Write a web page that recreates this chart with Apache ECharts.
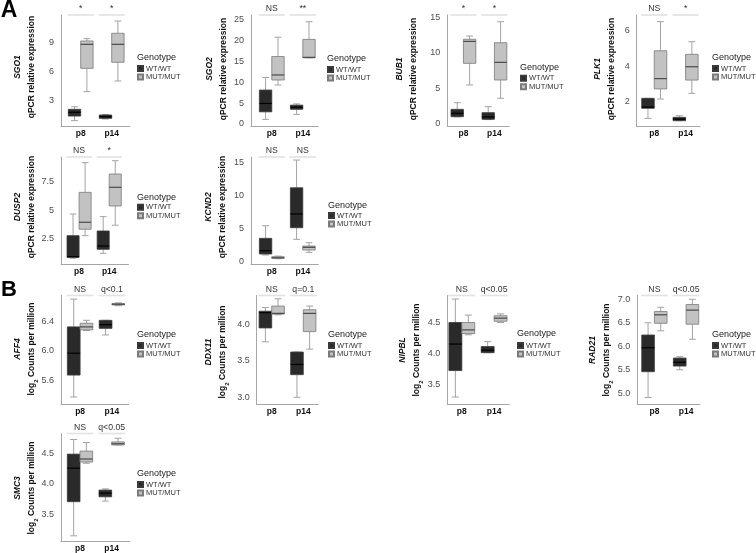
<!DOCTYPE html>
<html><head><meta charset="utf-8">
<script src="https://cdn.jsdelivr.net/npm/echarts@6/dist/echarts.min.js"></script>
<style>html,body{margin:0;padding:0;background:#fff}#c{width:756px;height:553px}</style>
</head><body><div id="c"></div>
<script>
// ---------- DATA ----------
const categories = ['p8', 'p14'];
const genotypes = ['WT/WT', 'MUT/MUT'];
// each row: [min, q1, median, q3, max] for p8 then p14
const SGO1_WT  = [[0.88, 1.36, 1.75, 2.06, 2.33], [1.05, 1.12, 1.29, 1.47, 1.52]];
const SGO1_MUT = [[3.9, 6.33, 8.83, 9.18, 9.42], [5.01, 6.96, 8.83, 9.98, 11.26]];
const SGO1_ticks = [3, 6, 9];
const SGO1_sig = ['*', '*'];

const SGO2_WT  = [[1.1, 2.9, 4.9, 8.1, 11.1], [2.3, 3.5, 4.0, 4.5, 4.8]];
const SGO2_MUT = [[9.3, 10.5, 11.7, 16.1, 20.7], [15.8, 15.8, 15.9, 20.2, 24.4]];
const SGO2_ticks = [0, 5, 10, 15, 20, 25];
const SGO2_sig = ['NS', '**'];

const BUB1_WT  = [[1.0, 1.03, 1.5, 2.06, 3.0], [0.62, 0.66, 1.0, 1.59, 2.43]];
const BUB1_MUT = [[5.48, 8.52, 11.6, 11.9, 12.36], [3.61, 6.18, 8.66, 11.42, 14.37]];
const BUB1_ticks = [0, 5, 10, 15];
const BUB1_sig = ['*', '*'];

const PLK1_WT  = [[1.06, 1.63, 1.7, 2.19, 2.19], [0.93, 0.93, 1.02, 1.12, 1.21]];
const PLK1_MUT = [[2.15, 2.72, 3.30, 4.87, 6.51], [2.47, 3.22, 3.97, 4.67, 5.38]];
const PLK1_ticks = [2, 4, 6];
const PLK1_sig = ['NS', '*'];

const DUSP2_WT  = [[0.82, 0.90, 0.96, 2.79, 4.68], [1.25, 1.60, 1.89, 3.2, 4.45]];
const DUSP2_MUT = [[2.79, 3.35, 3.96, 6.57, 9.16], [3.70, 5.38, 7.01, 8.17, 9.33]];
const DUSP2_ticks = [2.5, 5, 7.5];
const DUSP2_sig = ['NS', '*'];

const KCND2_WT  = [[1.02, 1.17, 1.67, 3.54, 5.45], [3.39, 5.15, 7.23, 11.2, 15.4]];
const KCND2_MUT = [[0.45, 0.51, 0.6, 0.76, 0.85], [1.42, 1.77, 2.18, 2.38, 2.88]];
const KCND2_ticks = [0, 5, 10, 15];
const KCND2_sig = ['NS', 'NS'];

const AFF4_WT  = [[5.37, 5.67, 5.97, 6.33, 6.71], [6.22, 6.31, 6.36, 6.42, 6.42]];
const AFF4_MUT = [[6.28, 6.29, 6.33, 6.38, 6.42], [6.62, 6.63, 6.64, 6.65, 6.66]];
const AFF4_ticks = [5.6, 6.0, 6.4];
const AFF4_sig = ['NS', 'q<0.1'];

const DDX11_WT  = [[3.76, 3.95, 4.16, 4.18, 4.23], [3.0, 3.31, 3.45, 3.62, 3.62]];
const DDX11_MUT = [[4.13, 4.14, 4.15, 4.25, 4.35], [3.66, 3.90, 4.15, 4.20, 4.25]];
const DDX11_ticks = [3.0, 3.5, 4.0];
const DDX11_sig = ['NS', 'q=0.1'];

const NIPBL_WT  = [[3.29, 3.72, 4.15, 4.50, 4.88], [4.01, 4.01, 4.05, 4.11, 4.19]];
const NIPBL_MUT = [[4.30, 4.32, 4.38, 4.50, 4.62], [4.50, 4.52, 4.57, 4.61, 4.64]];
const NIPBL_ticks = [3.5, 4.0, 4.5];
const NIPBL_sig = ['NS', 'q<0.05'];

const RAD21_WT  = [[4.91, 5.46, 5.97, 6.24, 6.50], [5.50, 5.58, 5.66, 5.75, 5.78]];
const RAD21_MUT = [[6.33, 6.49, 6.67, 6.74, 6.83], [6.15, 6.47, 6.77, 6.89, 7.0]];
const RAD21_ticks = [5.0, 5.5, 6.0, 6.5, 7.0];
const RAD21_sig = ['NS', 'q<0.05'];

const SMC3_WT  = [[3.15, 3.71, 4.26, 4.49, 4.73], [3.72, 3.79, 3.85, 3.90, 3.92]];
const SMC3_MUT = [[4.34, 4.36, 4.41, 4.54, 4.68], [4.64, 4.64, 4.66, 4.69, 4.75]];
const SMC3_ticks = [3.5, 4.0, 4.5];
const SMC3_sig = ['NS', 'q<0.05'];

const QPCR_TITLE = 'qPCR relative expression';

// ---------- LAYOUT ----------
const FF = '"Liberation Sans", Arial, Helvetica, sans-serif';
const panels = [
  {g:'SGO1', wt:SGO1_WT, mut:SGO1_MUT, ticks:SGO1_ticks, sig:SGO1_sig, log:false, dec:null, yr:[0.271, 11.885], L:61, R:130, xr:[0.365, 2.59], top:15, h:111.5, tt:[25, 67], leg:[137, 58, 68]},
  {g:'SGO2', wt:SGO2_WT, mut:SGO2_MUT, ticks:SGO2_ticks, sig:SGO2_sig, log:false, dec:null, yr:[-0.60, 26.01], L:251, R:318, xr:[0.33, 2.49], top:15, h:111.5, tt:[216.5, 69], leg:[327, 58.5, 69]},
  {g:'BUB1', wt:BUB1_WT, mut:BUB1_MUT, ticks:BUB1_ticks, sig:BUB1_sig, log:false, dec:null, yr:[-0.35, 15.31], L:447.3, R:509.3, xr:[0.48, 2.48], top:15, h:111.5, tt:[406.5, 69], leg:[520, 67.7, 77.7]},
  {g:'PLK1', wt:PLK1_WT, mut:PLK1_MUT, ticks:PLK1_ticks, sig:PLK1_sig, log:false, dec:null, yr:[0.603, 6.885], L:636.7, R:700, xr:[0.44, 2.46], top:15, h:111.5, tt:[605, 69], leg:[712, 58, 68]},
  {g:'DUSP2', wt:DUSP2_WT, mut:DUSP2_MUT, ticks:DUSP2_ticks, sig:DUSP2_sig, log:false, dec:null, yr:[0.275, 9.655], L:61, R:128.5, xr:[0.4, 2.64], top:157, h:107.5, tt:[24.5, 207], leg:[137, 197.3, 206.7]},
  {g:'KCND2', wt:KCND2_WT, mut:KCND2_MUT, ticks:KCND2_ticks, sig:KCND2_sig, log:false, dec:null, yr:[-0.42, 15.86], L:251, R:318.3, xr:[0.33, 2.5], top:157, h:107.5, tt:[216, 207], leg:[328, 205.7, 215]},
  {g:'AFF4', wt:AFF4_WT, mut:AFF4_MUT, ticks:AFF4_ticks, sig:AFF4_sig, log:true, dec:1, yr:[5.267, 6.760], L:61, R:128.5, xr:[0.4, 2.52], top:295.5, h:109, tt:[25, 349], leg:[137, 334.3, 345]},
  {g:'DDX11', wt:DDX11_WT, mut:DDX11_MUT, ticks:DDX11_ticks, sig:DDX11_sig, log:true, dec:1, yr:[2.901, 4.395], L:256.7, R:318.3, xr:[0.525, 2.475], top:295.5, h:109, tt:[216, 352], leg:[328, 334.3, 345]},
  {g:'NIPBL', wt:NIPBL_WT, mut:NIPBL_MUT, ticks:NIPBL_ticks, sig:NIPBL_sig, log:true, dec:1, yr:[3.169, 4.938], L:447.3, R:509.3, xr:[0.55, 2.47], top:295.5, h:109, tt:[410, 350], leg:[517, 333.3, 345]},
  {g:'RAD21', wt:RAD21_WT, mut:RAD21_MUT, ticks:RAD21_ticks, sig:RAD21_sig, log:true, dec:1, yr:[4.762, 7.081], L:637.3, R:700, xr:[0.46, 2.44], top:295.5, h:109, tt:[600, 350], leg:[712, 334.3, 345]},
  {g:'SMC3', wt:SMC3_WT, mut:SMC3_MUT, ticks:SMC3_ticks, sig:SMC3_sig, log:true, dec:1, yr:[3.057, 4.828], L:61, R:130, xr:[0.4, 2.58], top:433.5, h:108, tt:[25, 488], leg:[137, 473.3, 484]}
];

const WT_FILL = '#2a2a2a', WT_STROKE = '#3a3a3a', WT_MED = '#000000';
const MUT_FILL = '#c2c2c2', MUT_STROKE = '#7a7a7a', MUT_MED = '#4a4a4a';
const WHISK = '#a3a3a3';

function boxRender(dx, fill, stroke, med) {
  return function (params, api) {
    const x = api.value(0) + dx;
    const mn = api.value(1), q1 = api.value(2), md = api.value(3), q3 = api.value(4), mx = api.value(5);
    const p = v => api.coord([x, v]);
    const cx = p(md)[0];
    const hw = api.size([0.2, 0])[0];
    const cw = hw * 0.55;
    const yMn = p(mn)[1], yQ1 = p(q1)[1], yMd = p(md)[1], yQ3 = p(q3)[1], yMx = p(mx)[1];
    const ws = {stroke: WHISK, lineWidth: 1};
    return {type: 'group', children: [
      {type: 'line', shape: {x1: cx, y1: yMx, x2: cx, y2: yQ3}, style: ws},
      {type: 'line', shape: {x1: cx, y1: yQ1, x2: cx, y2: yMn}, style: ws},
      {type: 'line', shape: {x1: cx - cw, y1: yMx, x2: cx + cw, y2: yMx}, style: ws},
      {type: 'line', shape: {x1: cx - cw, y1: yMn, x2: cx + cw, y2: yMn}, style: ws},
      {type: 'rect', shape: {x: cx - hw, y: yQ3, width: 2 * hw, height: Math.max(yQ1 - yQ3, 0.6)}, style: {fill: fill, stroke: stroke, lineWidth: 0.8}},
      {type: 'line', shape: {x1: cx - hw, y1: yMd, x2: cx + hw, y2: yMd}, style: {stroke: med, lineWidth: 1.2}}
    ]};
  };
}
function sigRender(labels) {
  return function (params, api) {
    const i = params.dataIndex;
    const pt = api.coord([api.value(0), api.value(1)]);
    const hw = api.size([0.42, 0])[0];
    const y = params.coordSys.y;
    return {type: 'group', children: [
      {type: 'line', shape: {x1: pt[0] - hw, y1: y, x2: pt[0] + hw, y2: y}, style: {stroke: '#e2e2e2', lineWidth: 1.6}},
      {type: 'text', style: {text: labels[i], x: pt[0], y: y - 1.5, align: 'center', verticalAlign: 'bottom', textAlign: 'center', textVerticalAlign: 'bottom', fontSize: 8.7, fontFamily: FF, fill: '#333'}}
    ]};
  };
}

const grid = [], xAxis = [], yAxis = [], series = [], legend = [], graphic = [];
panels.forEach((P, i) => {
  grid.push({left: P.L, top: P.top, width: P.R - P.L, height: P.h, containLabel: false, outerBoundsMode: 'none'});
  xAxis.push({type: 'value', gridIndex: i, min: P.xr[0], max: P.xr[1],
    axisLine: {show: true, onZero: false, lineStyle: {color: '#a6a6a6', width: 1}},
    axisTick: {show: false}, splitLine: {show: false},
    axisLabel: {customValues: [1, 2], formatter: v => categories[Math.round(v) - 1] || '', fontWeight: 'bold', fontSize: 8.5, color: '#111', margin: 3, fontFamily: FF}});
  yAxis.push({type: 'value', gridIndex: i, min: P.yr[0], max: P.yr[1],
    axisLine: {show: true, onZero: false, lineStyle: {color: '#a6a6a6', width: 1}},
    axisTick: {show: false}, splitLine: {show: false},
    axisLabel: {customValues: P.ticks, formatter: v => P.dec != null ? Number(v).toFixed(P.dec) : String(v), fontSize: 9, color: '#4d4d4d', margin: 7, fontFamily: FF}});
  const mk = arr => arr.map((r, k) => [k + 1].concat(r));
  series.push({type: 'custom', name: genotypes[0], xAxisIndex: i, yAxisIndex: i, silent: true, clip: false,
    itemStyle: {color: WT_FILL, borderColor: WT_STROKE, borderWidth: 0.8},
    encode: {x: 0, y: [1, 2, 3, 4, 5]}, data: mk(P.wt), renderItem: boxRender(-0.2, WT_FILL, WT_STROKE, WT_MED)});
  series.push({type: 'custom', name: genotypes[1], xAxisIndex: i, yAxisIndex: i, silent: true, clip: false,
    itemStyle: {color: MUT_FILL, borderColor: MUT_STROKE, borderWidth: 0.8},
    encode: {x: 0, y: [1, 2, 3, 4, 5]}, data: mk(P.mut), renderItem: boxRender(0.2, MUT_FILL, MUT_STROKE, MUT_MED)});
  series.push({type: 'custom', name: 'sig' + i, xAxisIndex: i, yAxisIndex: i, silent: true, clip: false,
    encode: {x: 0, y: 1}, data: categories.map((c, k) => [k + 1, P.yr[1]]), renderItem: sigRender(P.sig)});
  legend.push({show: true, orient: 'vertical', left: P.leg[0], top: P.leg[2] - 3.5, padding: 0, itemGap: 0.5,
    itemWidth: 5, itemHeight: 5, icon: 'rect', selectedMode: false, data: genotypes.slice(),
    textStyle: {fontSize: 7.5, lineHeight: 7.5, color: '#333', fontFamily: FF, padding: [0, 0, 0, -2]}});
  graphic.push({type: 'text', left: null, x: P.leg[0], y: P.leg[1], silent: true,
    style: {text: 'Genotype', fontSize: 9, fontFamily: FF, fill: '#222', align: 'left', verticalAlign: 'middle', textAlign: 'left', textVerticalAlign: 'middle'}});
  const second = P.log ? '{t|log}{s|2}{t| Counts per million}' : '{t|' + QPCR_TITLE + '}';
  graphic.push({type: 'text', x: P.tt[0], y: P.tt[1], rotation: Math.PI / 2, silent: true,
    style: {text: '{g|' + P.g + '}\n' + second, align: 'center', verticalAlign: 'middle', textAlign: 'center', textVerticalAlign: 'middle',
      rich: {
        g: {fontStyle: 'italic', fontWeight: 'bold', fontSize: 8.5, lineHeight: 14, fontFamily: FF, fill: '#111', color: '#111'},
        t: {fontWeight: 'bold', fontSize: 8.5, lineHeight: 14, fontFamily: FF, fill: '#111', color: '#111'},
        s: {fontWeight: 'bold', fontSize: 6, lineHeight: 9, verticalAlign: 'bottom', fontFamily: FF, fill: '#111', color: '#111'}
      }}});
});
graphic.push({type: 'text', x: 9, y: 11, silent: true, style: {text: 'A', fontSize: 23, fontWeight: 'bold', fontFamily: FF, fill: '#000', align: 'center', verticalAlign: 'middle', textAlign: 'center', textVerticalAlign: 'middle'}});
graphic.push({type: 'text', x: 9, y: 290, silent: true, style: {text: 'B', fontSize: 22, fontWeight: 'bold', fontFamily: FF, fill: '#000', align: 'center', verticalAlign: 'middle', textAlign: 'center', textVerticalAlign: 'middle'}});

const chart = echarts.init(document.getElementById('c'), null, {renderer: 'canvas'});
chart.setOption({animation: false, backgroundColor: '#fff', textStyle: {fontFamily: FF}, grid, xAxis, yAxis, series, legend, graphic});
</script></body></html>
